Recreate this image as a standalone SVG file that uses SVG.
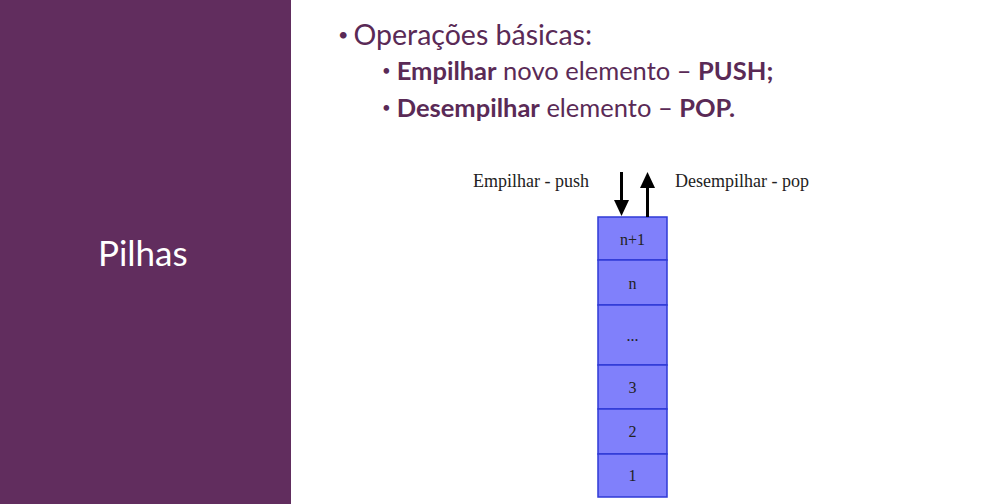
<svg xmlns="http://www.w3.org/2000/svg" width="983" height="504" viewBox="0 0 983 504">
  <defs>
    <style>
      .title { font-family: "Lato", "Open Sans", sans-serif; fill: #ffffff; font-size: 35px; }
      .bul { font-family: "Lato", "Open Sans", sans-serif; fill: #5a2a56; }
      .b { font-weight: bold; }
      .lbl { font-family: "Liberation Serif", serif; font-size: 18px; fill: #222222; }
      .cell rect { fill: #8080fb; stroke: #2f3ad6; stroke-width: 1.5; }
      .cell text { font-family: "Liberation Serif", serif; font-size: 16px; fill: #222222; text-anchor: middle; }
      .arrow { stroke: #000000; stroke-width: 3; fill: none; }
    </style>
  </defs>

  <rect x="0" y="0" width="983" height="504" fill="#ffffff"/>

  <!-- left title panel -->
  <g id="panel">
    <rect x="0" y="0" width="291" height="504" fill="#612d5e"/>
    <text class="title" x="98" y="266">Pilhas</text>
  </g>

  <!-- bullet list -->
  <g id="bullets">
    <text class="bul" x="338" y="45" font-size="28.5"><tspan font-size="18" dy="-4">•</tspan><tspan dy="4" dx="5">Operações básicas:</tspan></text>
    <text class="bul" x="382" y="80" font-size="25.5"><tspan font-size="15" dy="-4">•</tspan><tspan dy="4" dx="6" class="b">Empilhar</tspan> novo elemento – <tspan class="b">PUSH;</tspan></text>
    <text class="bul" x="382" y="117" font-size="25.5"><tspan font-size="15" dy="-4">•</tspan><tspan dy="4" dx="6" class="b">Desempilhar</tspan> elemento – <tspan class="b">POP.</tspan></text>
  </g>

  <!-- stack cells, bottom to top -->
  <g id="stack">
    <g id="cell-n1" class="cell"><rect x="598" y="217" width="69" height="43"/><text x="632.5" y="245">n+1</text></g>
    <g id="cell-n" class="cell"><rect x="598" y="260" width="69" height="45"/><text x="632.5" y="289">n</text></g>
    <g id="cell-dots" class="cell"><rect x="598" y="305" width="69" height="60"/><text x="632.5" y="341">...</text></g>
    <g id="cell-3" class="cell"><rect x="598" y="365" width="69" height="44"/><text x="632.5" y="393">3</text></g>
    <g id="cell-2" class="cell"><rect x="598" y="409" width="69" height="45"/><text x="632.5" y="437">2</text></g>
    <g id="cell-1" class="cell"><rect x="598" y="454" width="69" height="43"/><text x="632.5" y="481">1</text></g>
  </g>

  <!-- push / pop arrows -->
  <g id="connectors">
    <line class="arrow" x1="621.5" y1="172" x2="621.5" y2="201"/>
    <polygon points="614,200 629,200 621.5,216" fill="#000000"/>
    <line class="arrow" x1="647.5" y1="187" x2="647.5" y2="217"/>
    <polygon points="640,188 655,188 647.5,172" fill="#000000"/>
  </g>

  <g id="labels">
    <text class="lbl" x="473" y="187">Empilhar - push</text>
    <text class="lbl" x="675" y="187">Desempilhar - pop</text>
  </g>
</svg>
